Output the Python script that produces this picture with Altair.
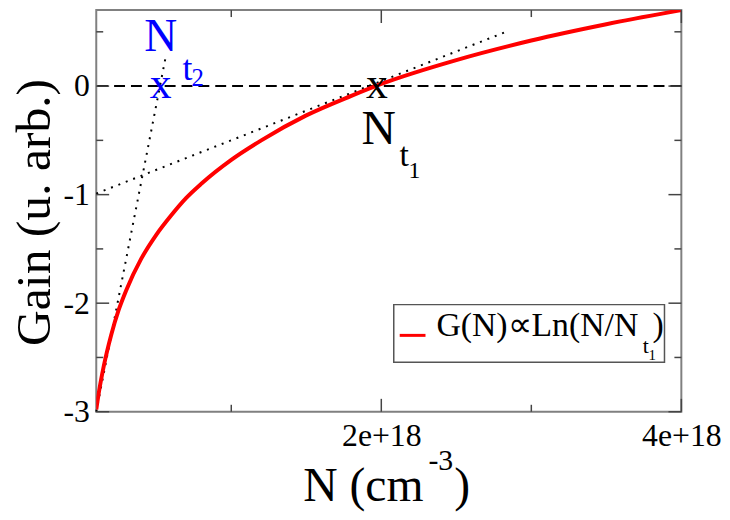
import altair as alt
import pandas as pd

FONT = "Liberation Serif"

# ---- data (N in units of 1e18 cm^-3) ----
N_curve = [0.1, 0.12, 0.15, 0.2, 0.25, 0.3, 0.4, 0.5, 0.6, 0.7, 0.8, 1.0, 1.2, 1.5, 1.8, 2.0, 2.5, 3.0, 3.5, 4.0]
G_curve = [-2.98, -2.80, -2.58, -2.29, -2.06, -1.88, -1.59, -1.37, -1.19, -1.03, -0.90, -0.68, -0.50, -0.27, -0.09, 0.02, 0.24, 0.42, 0.57, 0.70]

tan1_N = [0.1, 2.85]
tan1_G = [-0.99, 0.51]
tan2_N = [0.1, 0.563]
tan2_G = [-3.0, 0.27]

Nt1 = 1.97
Nt2 = 0.53

x_major = [2, 4]
x_labels = ["2e+18", "4e+18"]
x_minor = [1, 3]
y_major = [-3, -2, -1, 0]
y_labels = ["-3", "-2", "-1", "0"]
y_minor = [-2.5, -1.5, -0.5, 0.5]

X_DOMAIN = [0.1, 4.0]
Y_DOMAIN = [-3.0, 0.7]
W, H = 590, 405

xs = alt.Scale(domain=X_DOMAIN, nice=False, zero=False)
ys = alt.Scale(domain=Y_DOMAIN, nice=False, zero=False)


def make_expr(vals, labels):
    return " : ".join([f"datum.value == {v} ? '{l}'" for v, l in zip(vals, labels)]) + " : ''"


one = pd.DataFrame({"k": [0]})

curve_df = pd.DataFrame({"N": N_curve, "G": G_curve})
tan1_df = pd.DataFrame({"N": tan1_N, "G": tan1_G})
tan2_df = pd.DataFrame({"N": tan2_N, "G": tan2_G})

curve = alt.Chart(curve_df).mark_line(color="#ff0000", strokeWidth=4, interpolate="monotone", clip=True).encode(
    x=alt.X("N:Q", scale=xs, axis=alt.Axis(values=x_major, labelExpr=make_expr(x_major, x_labels), ticks=False,
                                           domain=False, grid=False, labelFont=FONT, labelFontSize=32,
                                           labelPadding=9, labelFlush=False, labelOverlap=False,
                                           labelColor="black", title=None)),
    y=alt.Y("G:Q", scale=ys, axis=alt.Axis(values=y_major, labelExpr=make_expr(y_major, y_labels), ticks=False,
                                           domain=False, grid=False, labelFont=FONT, labelFontSize=32,
                                           labelPadding=7, labelFlush=False, labelOverlap=False,
                                           labelColor="black", title=None)),
)

tan1 = alt.Chart(tan1_df).mark_line(color="black", strokeWidth=2, strokeDash=[2, 6]).encode(x="N:Q", y="G:Q")
tan2 = alt.Chart(tan2_df).mark_line(color="black", strokeWidth=2, strokeDash=[2, 6]).encode(x="N:Q", y="G:Q")

zero = alt.Chart(one).mark_rule(color="black", strokeWidth=2, strokeDash=[11, 6]).encode(y=alt.datum(0))

TICK = "#444444"


def xticks(vals, length):
    df = pd.DataFrame({"N": vals})
    b = alt.Chart(df).mark_rule(color=TICK, strokeWidth=1.5).encode(x="N:Q", y=alt.value(H), y2=alt.value(H - length))
    t = alt.Chart(df).mark_rule(color=TICK, strokeWidth=1.5).encode(x="N:Q", y=alt.value(0), y2=alt.value(length))
    return [b, t]


def yticks(vals, length):
    df = pd.DataFrame({"G": vals})
    l = alt.Chart(df).mark_rule(color=TICK, strokeWidth=1.5).encode(y="G:Q", x=alt.value(0), x2=alt.value(length))
    r = alt.Chart(df).mark_rule(color=TICK, strokeWidth=1.5).encode(y="G:Q", x=alt.value(W), x2=alt.value(W - length))
    return [l, r]


ticks = xticks(x_major, 13) + xticks(x_minor, 7) + yticks(y_major, 13) + yticks(y_minor, 7)


def ptext(txt, x, y, size, color="black", align="left", angle=0, baseline="alphabetic"):
    return alt.Chart(one).mark_text(text=txt, font=FONT, fontSize=size, color=color, align=align,
                                    baseline=baseline, angle=angle).encode(x=alt.value(x), y=alt.value(y))


def dtext(txt, xv, yv, dx, dy, size, color="black", align="left"):
    return alt.Chart(one).mark_text(text=txt, font=FONT, fontSize=size, color=color, align=align,
                                    baseline="alphabetic", dx=dx, dy=dy).encode(x=alt.datum(xv), y=alt.datum(yv))


BLUE = "#0000ff"
annotations = [
    # Nt1 marker and label
    dtext("x", Nt1, 0, 0, 12, 44, align="center"),
    dtext("N", Nt1, 0, 2, 58, 48, align="center"),
    dtext("t", Nt1, 0, 23, 81, 34),
    dtext("1", Nt1, 0, 32, 93, 24),
    # Nt2 marker and label
    dtext("x", Nt2, 0, 0, 12, 44, color=BLUE, align="center"),
    dtext("N", Nt2, 0, 0, -35, 46, color=BLUE, align="center"),
    dtext("t", Nt2, 0, 22, -6, 36, color=BLUE),
    dtext("2", Nt2, 0, 31, 0, 25, color=BLUE),
]

titles = [
    ptext("Gain (u. arb.)", -47, 204, 50, align="center", angle=270),
    ptext("N (cm", 330, 495, 48, align="right"),
    ptext("-3", 335, 464, 30),
    ptext(")", 361, 495, 48),
]

legend_box = alt.Chart(one).mark_rect(fill="white", stroke="#555555", strokeWidth=1.5).encode(
    x=alt.value(300), x2=alt.value(573), y=alt.value(297), y2=alt.value(355))
legend_line = alt.Chart(one).mark_rule(color="#ff0000", strokeWidth=3).encode(
    x=alt.value(306), x2=alt.value(332), y=alt.value(328))
legend_text = [
    ptext("G(N)\u221dLn(N/N", 343, 329, 34),
    ptext("t", 551, 346, 22),
    ptext("1", 557, 353, 15),
    ptext(")", 561, 329, 34),
]

chart = alt.layer(
    zero, tan1, tan2, curve, *ticks, *annotations, *titles, legend_box, legend_line, *legend_text
).properties(
    width=W, height=H,
    autosize=alt.AutoSizeParams(type="none"),
    padding={"left": 89, "top": 0, "right": 41, "bottom": 100},
).configure_view(stroke="#808080", strokeWidth=2)

chart.save("out.html", embed_options={"renderer": "svg", "actions": False})
